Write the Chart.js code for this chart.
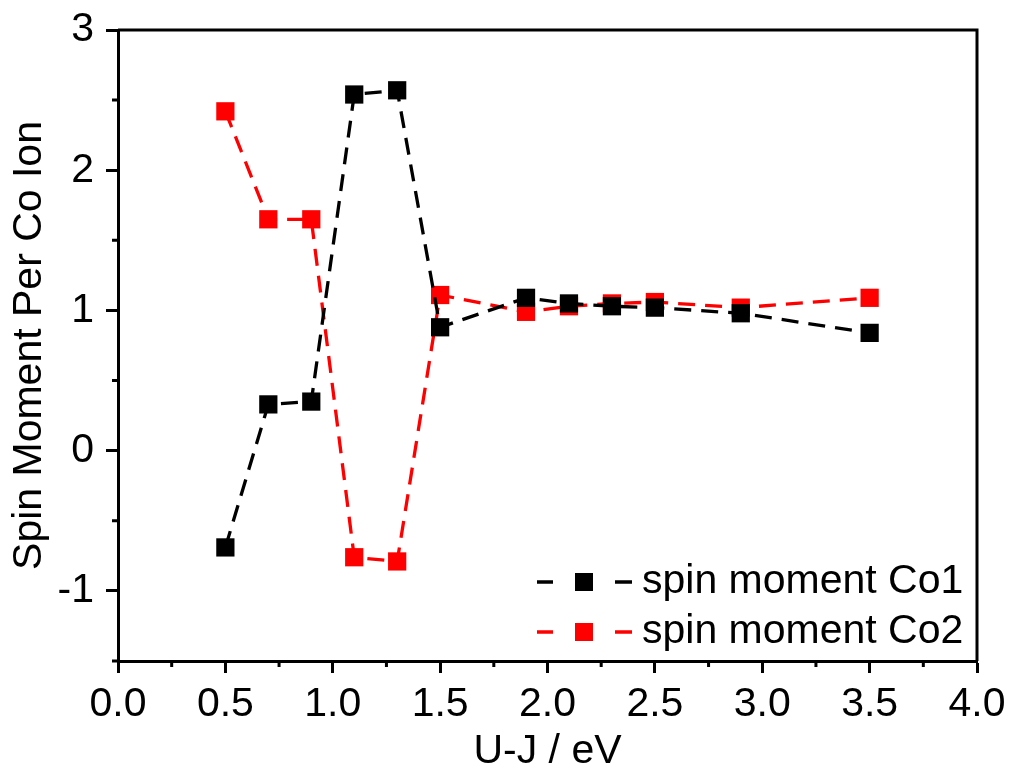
<!DOCTYPE html>
<html>
<head>
<meta charset="utf-8">
<script src="https://cdn.jsdelivr.net/npm/chart.js@4/dist/chart.umd.min.js"></script>
<style>
  html, body { margin: 0; padding: 0; background: #fff; }
  canvas { display: block; }
</style>
</head>
<body>
<canvas id="spin" width="1011" height="769"></canvas>
<script>
// U-J values (eV) and spin moments for both Co sites
const uj = [0.5, 0.7, 0.9, 1.1, 1.3, 1.5, 1.9, 2.1, 2.3, 2.5, 2.9, 3.5];
const co1 = [-0.69, 0.33, 0.35, 2.54, 2.57, 0.88, 1.09, 1.05, 1.03, 1.02, 0.98, 0.84];
const co2 = [2.42, 1.65, 1.65, -0.76, -0.79, 1.11, 0.99, 1.03, 1.05, 1.06, 1.02, 1.09];

const xTicks = [0, 0.5, 1, 1.5, 2, 2.5, 3, 3.5, 4];
const xMinor = [0.25, 0.75, 1.25, 1.75, 2.25, 2.75, 3.25, 3.75];
const yTicks = [-1, 0, 1, 2, 3];
const yMinor = [-1.5, -0.5, 0.5, 1.5, 2.5];

const FONT = 'Liberation Sans, Arial, sans-serif';
const FONT_SIZE = 41;
const LINE_W = 3;

function toPoints(ys) {
    return uj.map((x, i) => ({x: x, y: ys[i]}));
}

function series(label, ys, color) {
    return {
        label: label,
        data: toPoints(ys),
        borderColor: color,
        backgroundColor: color,
        borderWidth: 3.3,
        borderDash: [17, 10],
        pointStyle: 'rect',
        pointRadius: 12.9,
        pointHoverRadius: 12.9,
        pointBorderWidth: 0,
        tension: 0,
    };
}

// frame on top/right, minor ticks and the legend
const framePlugin = {
    id: 'frame',
    afterDraw(chart) {
        const {ctx, chartArea: a, scales} = chart;
        ctx.save();
        ctx.strokeStyle = '#000';
        ctx.lineWidth = LINE_W;
        ctx.beginPath();
        ctx.moveTo(a.left, a.top);
        ctx.lineTo(a.right, a.top);
        ctx.lineTo(a.right, a.bottom);
        ctx.stroke();

        ctx.beginPath();
        for (const v of xMinor) {
            const px = scales.x.getPixelForValue(v);
            ctx.moveTo(px, a.bottom);
            ctx.lineTo(px, a.bottom + 6);
        }
        for (const v of yMinor) {
            const py = scales.y.getPixelForValue(v);
            ctx.moveTo(a.left, py);
            ctx.lineTo(a.left - 6, py);
        }
        ctx.stroke();

        // legend: dash - square - dash, then label
        const x0 = 537, rowY = [582, 632];
        chart.data.datasets.forEach((ds, i) => {
            const y = rowY[i];
            ctx.strokeStyle = ds.borderColor;
            ctx.fillStyle = ds.backgroundColor;
            ctx.lineWidth = 3.3;
            ctx.setLineDash([]);
            ctx.beginPath();
            ctx.moveTo(x0, y);
            ctx.lineTo(x0 + 16, y);
            ctx.moveTo(x0 + 78, y);
            ctx.lineTo(x0 + 95, y);
            ctx.stroke();
            ctx.fillRect(x0 + 38, y - 9, 18, 18);
            ctx.fillStyle = '#000';
            ctx.font = FONT_SIZE + 'px ' + FONT;
            ctx.textBaseline = 'middle';
            ctx.fillText(ds.label, x0 + 105, y);
        });
        ctx.restore();
    }
};

const config = {
    type: 'line',
    data: {
        datasets: [
            series('spin moment Co1', co1, '#000000'),
            series('spin moment Co2', co2, '#ff0000'),
        ]
    },
    options: {
        responsive: false,
        animation: false,
        devicePixelRatio: 1,
        layout: {padding: {left: 0, top: 30, right: 34, bottom: 0}},
        plugins: {
            legend: {display: false},
            tooltip: {enabled: false},
        },
        scales: {
            x: {
                type: 'linear',
                min: 0,
                max: 4,
                afterBuildTicks(scale) { scale.ticks = xTicks.map(v => ({value: v})); },
                afterFit(scale) { scale.height = 108; },
                ticks: {
                    callback: v => v.toFixed(1),
                    color: '#000',
                    font: {family: FONT, size: FONT_SIZE, lineHeight: 1.35},
                    padding: 4,
                    maxRotation: 0,
                },
                grid: {
                    drawOnChartArea: false,
                    tickLength: 12,
                    tickWidth: LINE_W,
                    tickColor: '#000',
                },
                border: {color: '#000', width: LINE_W},
                title: {
                    display: true,
                    text: 'U-J / eV',
                    color: '#000',
                    font: {family: FONT, size: FONT_SIZE, lineHeight: 0.85},
                    padding: {top: 0, bottom: 0},
                },
            },
            y: {
                type: 'linear',
                min: -1.5,
                max: 3,
                afterBuildTicks(scale) { scale.ticks = yTicks.map(v => ({value: v})); },
                afterFit(scale) { scale.width = 118; },
                ticks: {
                    callback: v => String(v),
                    color: '#000',
                    font: {family: FONT, size: FONT_SIZE, lineHeight: 0.8},
                    padding: 12,
                },
                grid: {
                    drawOnChartArea: false,
                    tickLength: 12,
                    tickWidth: LINE_W,
                    tickColor: '#000',
                },
                border: {color: '#000', width: LINE_W},
                title: {
                    display: true,
                    text: 'Spin Moment Per Co Ion',
                    color: '#000',
                    font: {family: FONT, size: FONT_SIZE},
                    padding: {top: 5, bottom: 0},
                },
            },
        },
    },
    plugins: [framePlugin],
};

new Chart(document.getElementById('spin'), config);
</script>
</body>
</html>
